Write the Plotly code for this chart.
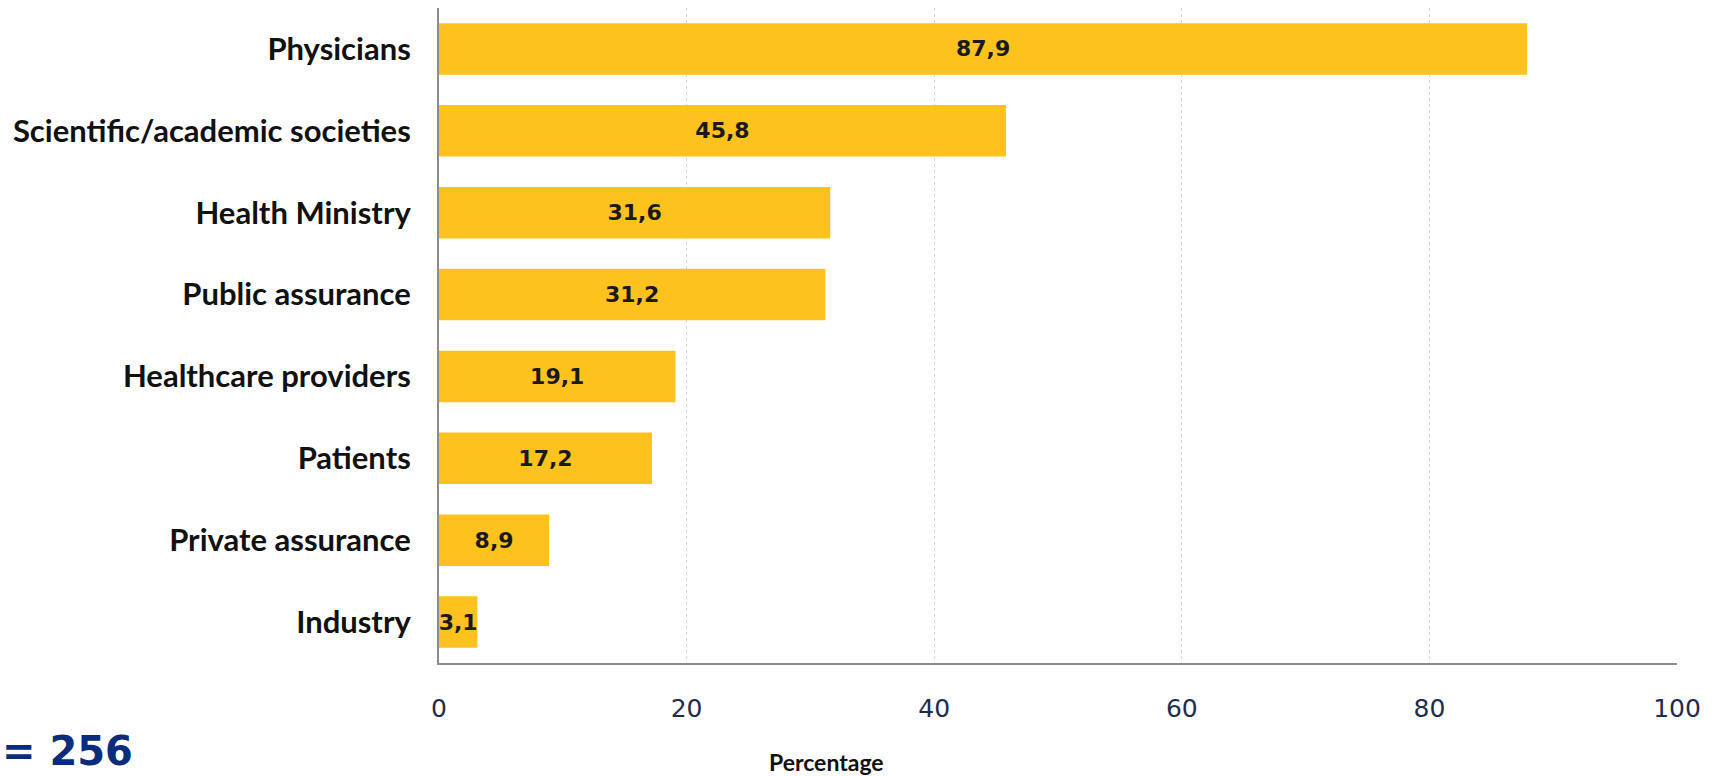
import plotly.graph_objects as go

# Survey: who should be involved (percentage of respondents)
categories = [
    "Physicians",
    "Scientific/academic societies",
    "Health Ministry",
    "Public assurance",
    "Healthcare providers",
    "Patients",
    "Private assurance",
    "Industry",
]
values = [87.9, 45.8, 31.6, 31.2, 19.1, 17.2, 8.9, 3.1]
x_ticks = [0, 20, 40, 60, 80, 100]

labels = [f"{v:.1f}".replace(".", ",") for v in values]

W, H = 1721, 776
ML, MR, MT, MB = 439, 44, 8, 113
PW = W - ML - MR

label_font = "Lato, sans-serif"

fig = go.Figure(
    go.Bar(
        y=categories,
        x=values,
        orientation="h",
        marker=dict(color="#FDC21E", line=dict(width=0)),
        text=labels,
        textposition="inside",
        insidetextanchor="middle",
        constraintext="none",
        textangle=0,
        textfont=dict(family="DejaVu Sans", size=22, color="#1a1a1a", weight="bold"),
        cliponaxis=False,
    )
)

fig.update_layout(
    width=W,
    height=H,
    margin=dict(l=ML, r=MR, t=MT, b=MB),
    plot_bgcolor="white",
    paper_bgcolor="white",
    bargap=0.37,
    showlegend=False,
)

fig.update_xaxes(
    range=[0, 100],
    tickvals=x_ticks,
    ticktext=[str(t) for t in x_ticks],
    showgrid=True,
    gridcolor="#D9D9D9",
    griddash="dot",
    gridwidth=1,
    showline=True,
    linecolor="#8C8C8C",
    linewidth=2,
    zeroline=False,
    ticks="",
    ticklabelstandoff=22,
    tickfont=dict(family="DejaVu Sans", size=25, color="#1F2D50"),
)

fig.update_yaxes(
    categoryorder="array",
    categoryarray=categories[::-1],
    showline=True,
    linecolor="#8C8C8C",
    linewidth=2,
    showgrid=False,
    ticks="",
    ticklabelstandoff=20,
    tickfont=dict(family=label_font, size=31, color="#111111", weight="bold"),
)

# Axis title placed under the tick labels
fig.add_annotation(
    text="Percentage",
    xref="paper", yref="paper",
    x=(826 - ML) / PW, y=0,
    yshift=-MB - 2,
    showarrow=False,
    font=dict(family=label_font, size=23, color="#111111", weight="bold"),
    xanchor="center", yanchor="bottom",
)

# Sample size note at the lower left
fig.add_annotation(
    text="= 256",
    xref="paper", yref="paper",
    x=-ML / PW, y=0,
    yshift=-MB,
    showarrow=False,
    font=dict(family="DejaVu Sans", size=40, color="#0B2C7A", weight="bold"),
    xanchor="left", yanchor="bottom",
)

fig.write_html("out.html")
